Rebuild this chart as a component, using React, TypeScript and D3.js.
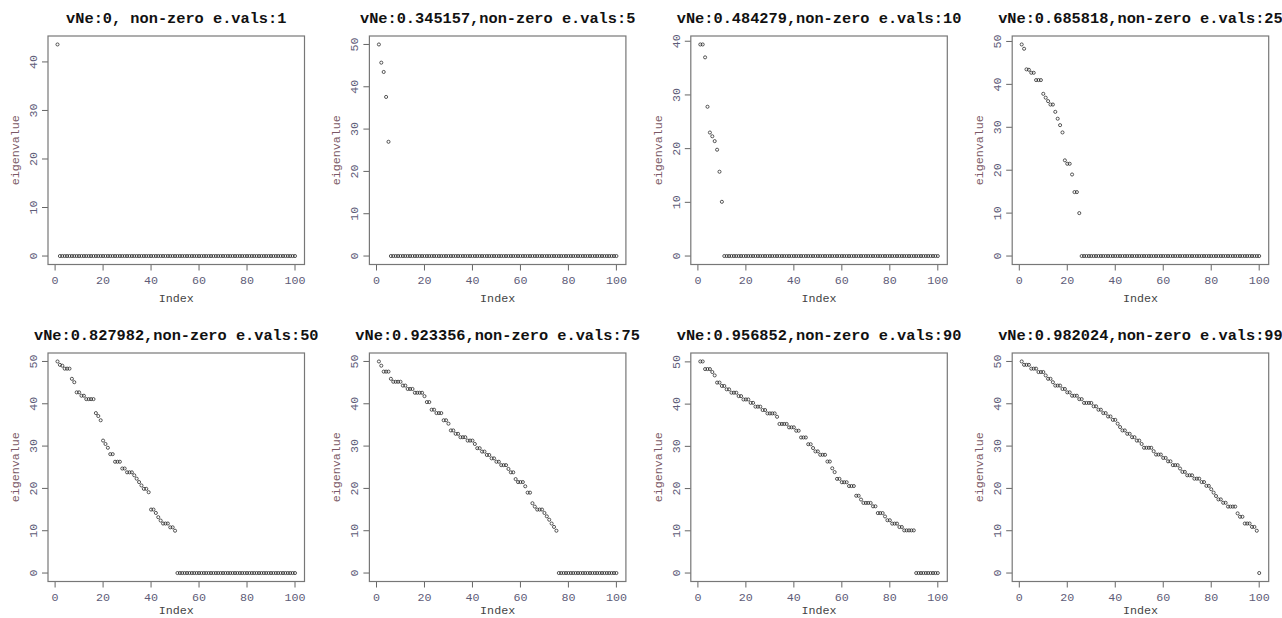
import React from "react";
import * as d3 from "d3";

// ---- data ----
const TOTAL = 100; // number of eigenvalues per panel (index 1..100)

const titles = [
  "vNe:0, non-zero e.vals:1",
  "vNe:0.345157,non-zero e.vals:5",
  "vNe:0.484279,non-zero e.vals:10",
  "vNe:0.685818,non-zero e.vals:25",
  "vNe:0.827982,non-zero e.vals:50",
  "vNe:0.923356,non-zero e.vals:75",
  "vNe:0.956852,non-zero e.vals:90",
  "vNe:0.982024,non-zero e.vals:99",
];

const nonZero1 = [43.6];
const nonZero5 = [50.0, 45.7, 43.5, 37.6, 27.0];
const nonZero10 = [39.4, 39.4, 37.0, 27.8, 23.0, 22.3, 21.4, 19.8, 15.7, 10.1];
const nonZero25 = [
  49.3, 48.3, 43.5, 43.4, 42.7, 42.7, 41.0, 41.0, 41.0, 37.8,
  36.9, 36.1, 35.3, 35.3, 33.6, 32.0, 30.5, 28.8, 22.3, 21.5,
  21.5, 19.0, 14.9, 14.9, 10.0,
];
const nonZero50 = [
  50.0, 49.2, 49.0, 48.3, 48.3, 48.3, 45.9, 45.1, 42.7, 42.7,
  41.9, 41.9, 41.1, 41.1, 41.1, 41.1, 37.8, 37.1, 36.1, 31.3,
  30.5, 29.6, 28.1, 28.1, 26.3, 26.3, 26.3, 24.7, 24.7, 23.8,
  23.8, 23.8, 23.1, 22.3, 21.5, 20.7, 19.9, 19.9, 19.1, 15.0,
  15.0, 14.2, 13.2, 12.4, 11.7, 11.7, 11.7, 10.8, 10.8, 10.0,
];
const nonZero75 = [
  50.0, 49.0, 47.6, 47.6, 47.6, 45.9, 45.2, 45.2, 45.2, 45.2,
  44.3, 44.3, 43.5, 43.5, 43.5, 42.6, 42.6, 42.6, 42.6, 41.8,
  40.4, 40.4, 38.6, 38.6, 37.8, 37.8, 37.8, 36.1, 36.1, 35.3,
  33.7, 33.7, 32.9, 32.9, 32.1, 32.1, 32.1, 31.3, 31.3, 31.3,
  30.5, 29.5, 29.5, 28.7, 28.7, 27.9, 27.9, 27.1, 27.1, 26.3,
  26.3, 25.5, 25.5, 25.5, 24.6, 23.8, 23.8, 22.2, 21.5, 21.5,
  21.5, 20.5, 19.0, 19.0, 16.5, 15.7, 15.0, 15.0, 15.0, 14.2,
  13.4, 12.6, 11.7, 10.9, 10.0,
];
const nonZero90 = [
  50.1, 50.1, 48.3, 48.3, 48.3, 47.6, 46.8, 45.1, 45.1, 44.3,
  44.3, 43.5, 43.5, 42.7, 42.7, 42.7, 41.9, 41.9, 41.1, 41.1,
  41.1, 40.3, 40.3, 39.4, 39.4, 39.4, 38.6, 38.6, 37.8, 37.8,
  37.8, 37.8, 37.0, 35.3, 35.3, 35.3, 35.3, 34.5, 34.5, 34.5,
  33.7, 33.7, 32.1, 32.1, 32.1, 30.5, 30.5, 29.6, 28.8, 28.8,
  28.0, 28.0, 28.0, 26.4, 26.4, 24.8, 23.9, 22.3, 22.3, 21.5,
  21.5, 21.5, 20.6, 20.6, 20.6, 18.3, 18.3, 17.4, 16.6, 16.6,
  16.6, 16.6, 15.8, 15.8, 14.2, 14.2, 14.2, 13.4, 12.5, 12.5,
  11.7, 11.7, 11.7, 10.9, 10.9, 10.1, 10.1, 10.1, 10.1, 10.1,
];
const nonZero99 = [
  50.0, 49.2, 49.2, 49.2, 48.3, 48.3, 48.3, 47.5, 47.5, 47.5,
  46.7, 45.9, 45.9, 45.1, 44.3, 44.3, 44.3, 43.5, 43.5, 42.7,
  42.7, 41.9, 41.9, 41.9, 41.1, 41.1, 40.2, 40.2, 40.2, 40.2,
  39.4, 39.4, 38.6, 38.6, 37.8, 37.8, 37.0, 37.0, 36.2, 36.2,
  35.3, 34.5, 33.7, 33.7, 32.9, 32.9, 32.1, 32.1, 31.3, 31.3,
  30.5, 29.6, 29.6, 29.6, 29.6, 28.8, 28.0, 28.0, 28.0, 27.2,
  27.2, 26.4, 26.4, 25.5, 25.5, 25.5, 24.7, 23.9, 23.9, 23.1,
  23.1, 23.1, 22.3, 22.3, 22.3, 21.5, 21.5, 20.6, 20.6, 19.8,
  19.0, 18.2, 17.4, 17.4, 16.6, 16.6, 15.7, 15.7, 15.7, 15.7,
  14.1, 13.3, 13.3, 11.7, 11.7, 11.7, 10.9, 10.9, 10.0,
];

const panelNonZero = [nonZero1, nonZero5, nonZero10, nonZero25, nonZero50, nonZero75, nonZero90, nonZero99];

const xLabel = "Index";
const yLabel = "eigenvalue";

// ---- layout ----
const W = 1282;
const H = 618;
const COLS = 4;
const boxLeft0 = 48;
const colStep = 321.4;
const boxW = 256.5;
const rowTops = [36, 353];
const boxH = 228.5;

const MONO = "'Liberation Mono', 'Courier New', 'DejaVu Sans Mono', monospace";

function Panel({ idx }: { idx: number }) {
  const col = idx % COLS;
  const row = Math.floor(idx / COLS);
  const left = boxLeft0 + col * colStep;
  const top = rowTops[row];
  const right = left + boxW;
  const bottom = top + boxH;

  const nz = panelNonZero[idx];
  // eigenvalues beyond the non-zero count are 0
  const values = d3.range(TOTAL).map((i) => (i < nz.length ? nz[i] : 0));
  const idxs = d3.range(1, TOTAL + 1);

  const xMin = 1, xMax = TOTAL;
  const xPad = (xMax - xMin) * 0.04;
  const yMax = d3.max(values) as number;
  const yMinV = d3.min(values) as number;
  const yPad = (yMax - yMinV) * 0.04;

  const x = d3.scaleLinear().domain([xMin - xPad, xMax + xPad]).range([left, right]);
  const y = d3.scaleLinear().domain([yMinV - yPad, yMax + yPad]).range([bottom, top]);

  const xTicks = d3.ticks(xMin - xPad, xMax + xPad, 5);
  const yTicks = d3.ticks(yMinV - yPad, yMax + yPad, 5);

  const tickLen = 6;
  const tickColor = "#5e5c78";
  const cx = (left + right) / 2;
  const cy = (top + bottom) / 2;
  const xLabelY = Math.min(bottom + 37, H - 4.5);

  return (
    <g>
      <text
        x={cx}
        y={top - 12.7}
        textAnchor="middle"
        fontFamily={MONO}
        fontWeight="bold"
        fontSize={15.3}
        fill="#111"
      >
        {titles[idx]}
      </text>

      {/* x axis */}
      <line x1={x(xTicks[0])} x2={x(xTicks[xTicks.length - 1])} y1={bottom} y2={bottom} stroke="#666" />
      {xTicks.map((t) => (
        <g key={"x" + t}>
          <line x1={x(t)} x2={x(t)} y1={bottom} y2={bottom + tickLen} stroke="#666" strokeWidth={1} />
          <text x={x(t)} y={bottom + 19} textAnchor="middle" fontFamily={MONO} fontSize={11.7} fill={tickColor}>
            {t}
          </text>
        </g>
      ))}

      {/* y axis */}
      {yTicks.map((t) => (
        <g key={"y" + t}>
          <line x1={left - tickLen} x2={left} y1={y(t)} y2={y(t)} stroke="#666" strokeWidth={1} />
          <text
            x={left - 11}
            y={y(t)}
            transform={`rotate(-90, ${left - 11}, ${y(t)})`}
            textAnchor="middle"
            fontFamily={MONO}
            fontSize={11.7}
            fill={tickColor}
          >
            {t}
          </text>
        </g>
      ))}

      <text x={cx} y={xLabelY} textAnchor="middle" fontFamily={MONO} fontSize={11.7} fill="#444">
        {xLabel}
      </text>
      <text
        x={left - 29}
        y={cy}
        transform={`rotate(-90, ${left - 29}, ${cy})`}
        textAnchor="middle"
        fontFamily={MONO}
        fontSize={11.7}
        fill="#7a5866"
      >
        {yLabel}
      </text>

      {/* points */}
      {values.map((v, i) => (
        <circle key={i} cx={x(idxs[i])} cy={y(v)} r={1.55} fill="none" stroke="#222" strokeWidth={0.75} />
      ))}

      {/* box */}
      <rect x={left} y={top} width={boxW} height={boxH} fill="none" stroke="#777" strokeWidth={1.2} />
    </g>
  );
}

export default function App() {
  return (
    <svg
      width={W}
      height={H}
      viewBox={`0 0 ${W} ${H}`}
      style={{ position: "absolute", left: 0, top: 0, background: "#fff" }}
    >
      <rect x={0} y={0} width={W} height={H} fill="#fff" />
      {titles.map((_, i) => (
        <Panel key={i} idx={i} />
      ))}
    </svg>
  );
}
